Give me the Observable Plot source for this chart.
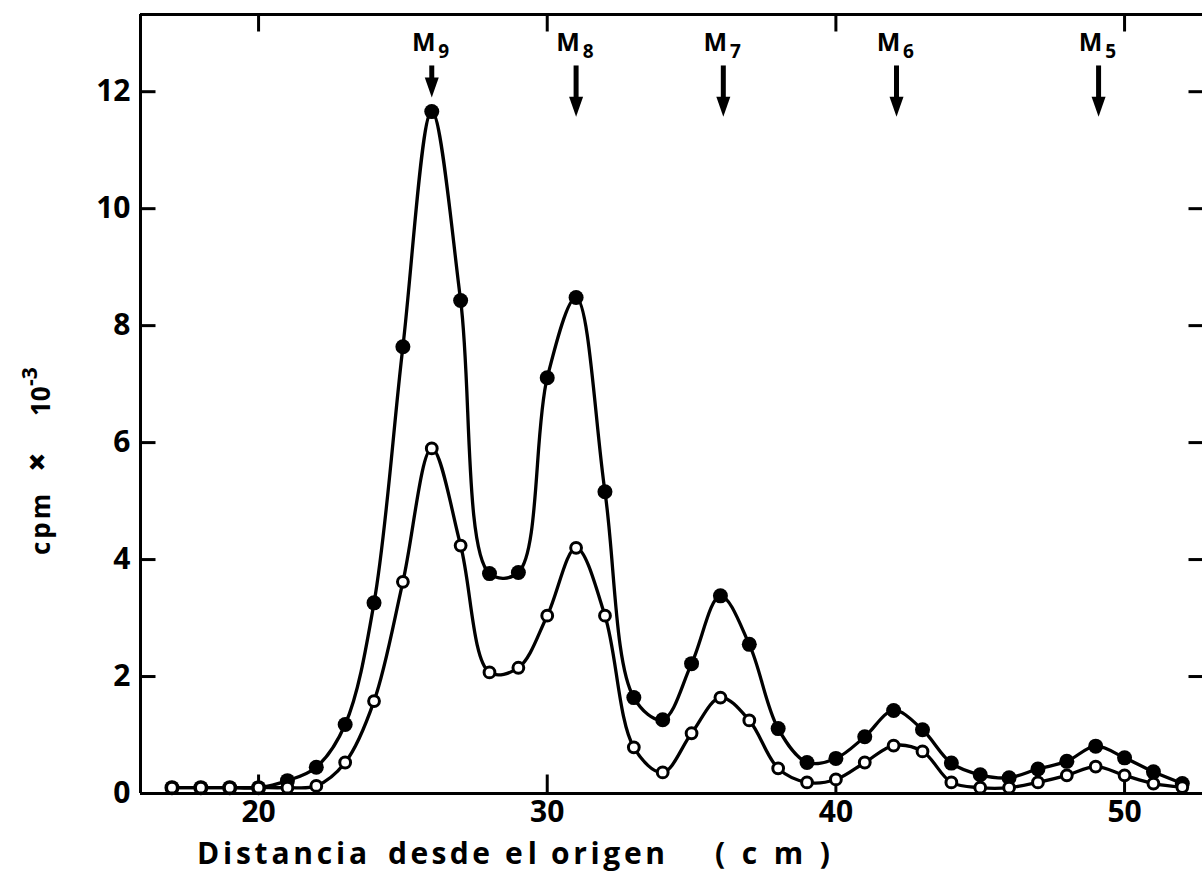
<!DOCTYPE html>
<html>
<head>
<meta charset="utf-8">
<script src="https://cdn.jsdelivr.net/npm/d3@7"></script>
<script src="https://cdn.jsdelivr.net/npm/@observablehq/plot@0.6"></script>
<style>
  html, body { margin: 0; padding: 0; background: #fff; }
  #chart svg { display: block; }
</style>
</head>
<body>
<div id="chart"></div>
<script>
// Distance from origin (cm) of each collected fraction
const distance = [17, 18, 19, 20, 21, 22, 23, 24, 25, 26, 27, 28, 29, 30, 31, 32, 33, 34,
                  35, 36, 37, 38, 39, 40, 41, 42, 43, 44, 45, 46, 47, 48, 49, 50, 51, 52];

// cpm x 10^-3, filled circles
const cpmFilled = [0.1, 0.1, 0.1, 0.1, 0.22, 0.45, 1.18, 3.26, 7.64, 11.66, 8.43, 3.76, 3.78, 7.11,
                   8.48, 5.16, 1.64, 1.26, 2.22, 3.38, 2.55, 1.11, 0.53, 0.6, 0.97, 1.42, 1.09, 0.52,
                   0.32, 0.27, 0.42, 0.55, 0.81, 0.61, 0.37, 0.17];

// cpm x 10^-3, open circles
const cpmOpen = [0.1, 0.1, 0.1, 0.1, 0.1, 0.13, 0.53, 1.58, 3.62, 5.9, 4.24, 2.07, 2.15, 3.04,
                 4.2, 3.04, 0.79, 0.36, 1.03, 1.64, 1.25, 0.43, 0.19, 0.24, 0.53, 0.82, 0.72, 0.19,
                 0.1, 0.1, 0.19, 0.31, 0.46, 0.31, 0.17, 0.11];

// Marker positions (M9 ... M5) and the level their arrows point down to
const markerNames = ["9", "8", "7", "6", "5"];
const markerPos = [26.0, 31.0, 36.1, 42.1, 49.1];
const markerTip = [11.9, 11.57, 11.57, 11.57, 11.57];

// Axis ticks
const xTicks = [20, 30, 40, 50];
const yTicks = [0, 2, 4, 6, 8, 10, 12];

// Scale extents
const xLo = 15.91, xHi = 52.7;
const yHi = 13.32;

const rows = distance.map((d, i) => ({d, filled: cpmFilled[i], open: cpmOpen[i]}));
const markers = markerNames.map((name, i) => ({name, x: markerPos[i], tip: markerTip[i]}));

// a plain straight stroke for inward ticks
const tickShape = { draw(ctx, l) { ctx.moveTo(0, 0); ctx.lineTo(0, -l); } };
// solid arrow head, tip at the origin, pointing down
const arrowHead = { draw(ctx) { ctx.moveTo(0, 0); ctx.lineTo(-7, -20); ctx.lineTo(7, -20); ctx.closePath(); } };

const lw = 3;
const font = "'Open Sans', 'DejaVu Sans', sans-serif";
const svg = Plot.plot({
  width: 1202,
  height: 883,
  marginLeft: 140,
  marginRight: 0,
  marginTop: 14,
  marginBottom: 90,
  x: {domain: [xLo, xHi]},
  y: {domain: [0, yHi]},
  style: {
    fontFamily: font,
    fontWeight: 700,
    fontSize: "30px",
    background: "#fff",
    color: "#000"
  },
  marks: [
    // frame: left, bottom and top edges
    Plot.ruleX([xLo], {strokeWidth: lw}),
    Plot.ruleY([0], {strokeWidth: lw}),
    Plot.ruleY([yHi], {strokeWidth: lw}),

    // inward ticks on all four sides
    Plot.vector(yTicks.slice(1), {x: () => xLo, y: d => d, length: 15, rotate: 90, anchor: "start", shape: tickShape, strokeWidth: lw, strokeLinecap: "butt"}),
    Plot.vector(yTicks.slice(1), {x: () => xHi, y: d => d, length: 14, rotate: -90, anchor: "start", shape: tickShape, strokeWidth: lw, strokeLinecap: "butt"}),
    Plot.vector(xTicks, {x: d => d, y: () => 0, length: 19, rotate: 0, anchor: "start", shape: tickShape, strokeWidth: lw, strokeLinecap: "butt"}),
    Plot.vector(xTicks, {x: d => d, y: () => yHi, length: 17, rotate: 180, anchor: "start", shape: tickShape, strokeWidth: lw, strokeLinecap: "butt"}),

    // tick labels
    Plot.axisY({ticks: yTicks, tickSize: 0, tickPadding: 10, label: null}),
    Plot.axisX({ticks: xTicks, tickSize: 0, tickPadding: 7, label: null}),

    // smooth curves through the measurements
    Plot.line(rows, {x: "d", y: "filled", curve: "catmull-rom", strokeWidth: 3.3}),
    Plot.line(rows, {x: "d", y: "open", curve: "catmull-rom", strokeWidth: 3.3}),
    Plot.dot(rows, {x: "d", y: "filled", r: 7.5, fill: "#000", stroke: "none"}),
    Plot.dot(rows, {x: "d", y: "open", r: 5.4, fill: "#fff", stroke: "#000", strokeWidth: 3}),

    // marker arrows and labels
    Plot.ruleX(markers, {x: "x", y1: () => 12.44, y2: d => d.tip + 0.2, strokeWidth: 5}),
    Plot.dot(markers, {x: "x", y: "tip", symbol: arrowHead, fill: "#000", stroke: "none"}),
    Plot.text(markers, {x: "x", y: () => 12.84, text: () => "M", dx: -8, fontSize: 25, lineAnchor: "middle"}),
    Plot.text(markers, {x: "x", y: () => 12.84, text: "name", dx: 12, dy: 9, fontSize: 19, lineAnchor: "middle"})
  ]
});

const root = d3.select(svg);

// y-axis title: cpm × 10^-3, reading upward
const yl = root.append("g")
  .attr("transform", "translate(50,0) rotate(-90)")
  .attr("font-size", 26)
  .attr("text-anchor", "start")
  .attr("fill", "#000");
yl.append("text").attr("x", -555).attr("letter-spacing", 3).text("cpm");
yl.append("text").attr("x", -462).attr("y", -1).attr("text-anchor", "middle").attr("font-size", 34).attr("font-weight", 800).text("×");
yl.append("text").attr("x", -416).text("10");
yl.append("text").attr("x", -386).attr("y", -13).attr("font-size", 21).text("-3");

// x-axis title, word by word
const xl = root.append("g")
  .attr("font-size", 30)
  .attr("text-anchor", "start")
  .attr("fill", "#000");
const words = [["Distancia", 197, 170], ["desde", 388, 102], ["el", 505, 32], ["origen", 551, 114], ["(cm)", 715, 115]];
for (const [w, x, len] of words) {
  xl.append("text").attr("x", x).attr("y", 864)
    .attr("textLength", len).attr("lengthAdjust", "spacing").text(w);
}

document.getElementById("chart").appendChild(svg);
</script>
</body>
</html>
